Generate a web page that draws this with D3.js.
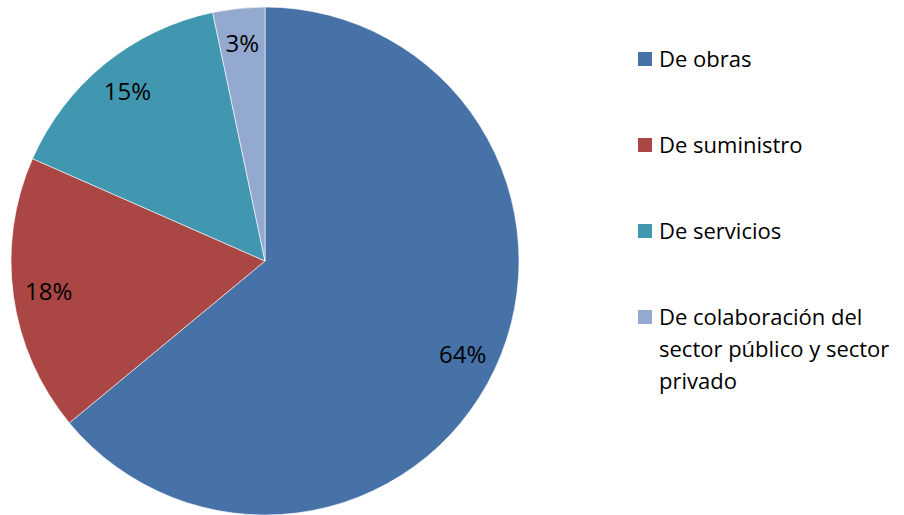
<!DOCTYPE html>
<html>
<head>
<meta charset="utf-8">
<script src="https://cdn.jsdelivr.net/npm/d3@7"></script>
<style>
  body { margin: 0; background: #fff; }
  text { font-family: "Open Sans", Lato, sans-serif; fill: #000; }
</style>
</head>
<body>
<svg id="chart" width="904" height="515"></svg>
<script>
// contract types and share of total
const categories = ["De obras", "De suministro", "De servicios", "De colaboración del sector público y sector privado"];
const shares = [64.0, 17.6, 15.1, 3.3];
const pctLabels = ["64%", "18%", "15%", "3%"];
const colors = ["#4672A8", "#AA4644", "#4197AF", "#94A9CF"];

const svg = d3.select("#chart");
const cx = 265, cy = 261, radius = 254;

const data = categories.map((c, i) => ({ name: c, value: shares[i], label: pctLabels[i], color: colors[i] }));

const pie = d3.pie().sort(null).value(d => d.value);
const arc = d3.arc().innerRadius(0).outerRadius(radius);
const labelArc = d3.arc().innerRadius(radius * 0.86).outerRadius(radius * 0.86);

const g = svg.append("g").attr("transform", `translate(${cx},${cy})`);

const arcs = pie(data);

g.selectAll(".slice")
  .data(arcs)
  .enter()
  .append("path")
  .attr("class", "slice")
  .attr("d", arc)
  .attr("fill", d => d.data.color)
  .attr("stroke", "#fff")
  .attr("stroke-width", 0.6);

g.selectAll(".pct")
  .data(arcs)
  .enter()
  .append("text")
  .attr("class", "pct")
  .attr("transform", d => {
    const [x, y] = labelArc.centroid(d);
    return `translate(${x},${y})`;
  })
  .attr("text-anchor", "middle")
  .attr("dy", "0.36em")
  .style("font-size", "24px")
  .text(d => d.data.label);

// legend
const legend = svg.append("g").attr("transform", "translate(638,0)");
const legendY = [59, 145, 231, 317];
const legendLines = [["De obras"], ["De suministro"], ["De servicios"], ["De colaboración del", "sector público y sector", "privado"]];

const items = legend.selectAll(".item")
  .data(data)
  .enter()
  .append("g")
  .attr("class", "item")
  .attr("transform", (d, i) => `translate(0,${legendY[i]})`);

items.append("rect")
  .attr("x", 0)
  .attr("y", -7)
  .attr("width", 14)
  .attr("height", 14)
  .attr("fill", d => d.color);

items.each(function (d, i) {
  const t = d3.select(this).append("text")
    .attr("x", 21)
    .attr("y", 0)
    .style("font-size", "22px");
  legendLines[i].forEach((line, j) => {
    t.append("tspan").attr("x", 21).attr("dy", j === 0 ? "0.36em" : 32).text(line);
  });
});
</script>
</body>
</html>
